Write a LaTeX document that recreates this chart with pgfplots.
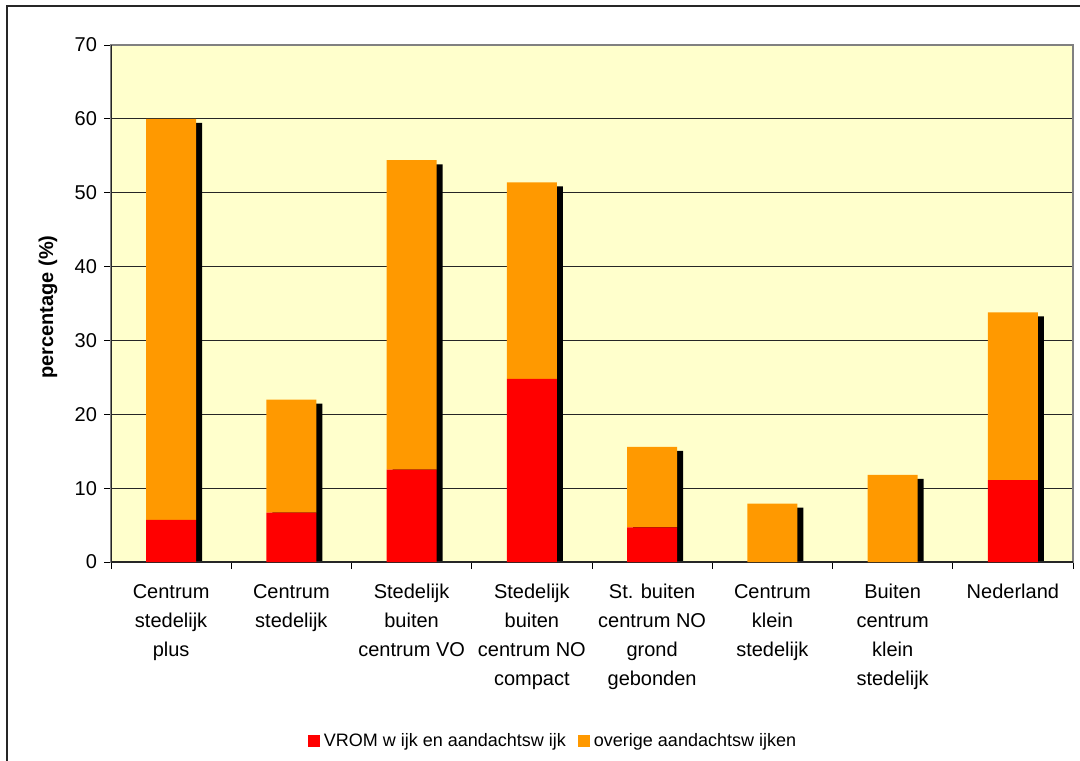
\documentclass[border=0pt]{standalone}
\usepackage{fontspec}
\setmainfont{Liberation Sans}
\usepackage{pgfplots}
\pgfplotsset{compat=1.18}

\definecolor{plotbg}{HTML}{FFFFCC}
\definecolor{barorange}{HTML}{FF9900}
\definecolor{barred}{HTML}{FF0000}

% shared geometry of the plot area
\pgfplotsset{
  plotframe/.style={
    scale only axis, width=481pt, height=258.5pt,
    at={(55.5pt,99pt)}, anchor=south west,
    xmin=-0.5, xmax=7.5, ymin=0, ymax=70,
  },
}

\begin{document}
\begin{tikzpicture}
\path[use as bounding box] (0,0) rectangle (540pt,380pt);
% outer chart frame
\draw[line width=1pt, black!85] (3.5pt,-10pt) -- (3.5pt,377pt) -- (560pt,377pt);

% background, grid, ticks and the drop shadows of the bars
\begin{axis}[plotframe,
  axis background/.style={fill=plotbg},
  axis line style={gray, line width=0.75pt},
  ytick={0,10,...,70},
  ymajorgrids, grid style={black!85, line width=0.5pt},
  tick pos=left,
  tick align=outside, major tick length=3.5pt, minor tick length=3.5pt,
  ytick style={black, line width=0.5pt},
  xtick={0,...,7},
  minor xtick={-0.5,0.5,...,7.5},
  major x tick style={draw=none},
  minor x tick style={black, line width=0.5pt},
  xticklabels={
    {Centrum\\stedelijk\\plus},
    {Centrum\\stedelijk},
    {Stedelijk\\buiten\\centrum VO},
    {Stedelijk\\buiten\\centrum NO\\compact},
    {St. buiten\\centrum NO\\grond\\gebonden},
    {Centrum\\klein\\stedelijk},
    {Buiten\\centrum\\klein\\stedelijk},
    {Nederland}},
  xticklabel style={align=center, font=\fontsize{10}{14.5}\selectfont, anchor=north, yshift=-4pt},
  yticklabel style={font=\fontsize{10}{12}\selectfont},
  /pgf/number format/assume math mode=true,
  ylabel={percentage (\%)},
  every axis y label/.style={at={(axis description cs:-0.0655,0.493)}, rotate=90, anchor=center,
    font=\bfseries\fontsize{10}{12}\selectfont},
]
\addplot[ybar, bar width=25pt, bar shift=3pt, fill=black, draw=none] coordinates {
  (0,59.45) (1,21.45) (2,53.85) (3,50.85) (4,15.05) (5,7.35) (6,11.25) (7,33.25)};
\end{axis}

% stacked bars and legend
\begin{axis}[plotframe, hide axis,
  ybar stacked, bar width=25pt,
  legend image code/.code={\fill[#1] (0pt,-3pt) rectangle (6pt,3pt);},
  legend style={at={(axis description cs:0.4605,-0.3462)}, anchor=center,
    draw=none, fill=none, legend columns=2,
    font=\fontsize{9}{11}\selectfont,
    /tikz/every even column/.append style={column sep=4pt}},
]
\addplot[fill=barred, draw=none] coordinates {
  (0,5.7) (1,6.7) (2,12.5) (3,24.8) (4,4.7) (5,0) (6,0) (7,11.1)};
\addplot[fill=barorange, draw=none] coordinates {
  (0,54.3) (1,15.3) (2,41.9) (3,26.6) (4,10.9) (5,7.9) (6,11.8) (7,22.7)};
\legend{VROM w ijk en aandachtsw ijk, overige aandachtsw ijken}
\draw[black!85, line width=0.75pt] (rel axis cs:0,1) -- (rel axis cs:0,0) -- (rel axis cs:1,0);
\end{axis}
\end{tikzpicture}
\end{document}
